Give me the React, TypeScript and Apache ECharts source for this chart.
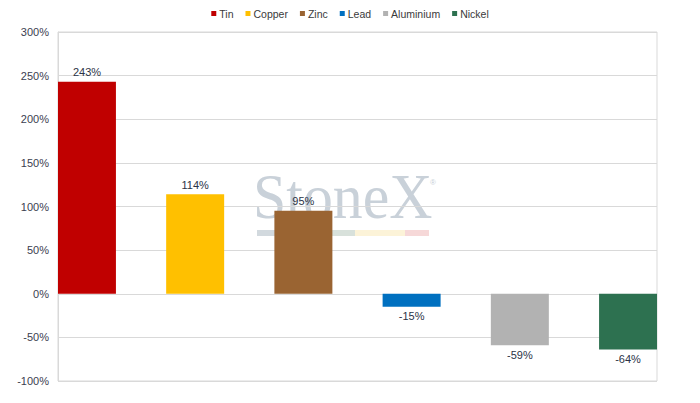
import React, { useEffect, useRef } from "react";
import * as echarts from "echarts";

const metals = ["Tin", "Copper", "Zinc", "Lead", "Aluminium", "Nickel"];
const changes = [243, 114, 95, -15, -59, -64];
const colors = ["#C00000", "#FFC000", "#9A6432", "#0070C0", "#B2B2B2", "#2D7150"];
const yMin = -100;
const yMax = 300;
const yStep = 50;

export default function App() {
  const ref = useRef<HTMLDivElement>(null);
  useEffect(() => {
    if (!ref.current) return;
    const chart = echarts.init(ref.current, null, { renderer: "svg" });
    const series = metals.map((name, i) => ({
      name,
      type: "bar" as const,
      data: [changes[i]],
      barWidth: 58,
      barGap: "86.6%",
      itemStyle: { color: colors[i] },
      z: 3,
      label: {
        show: true,
        position: changes[i] >= 0 ? "top" : "bottom",
        distance: 4,
        formatter: "{c}%",
        fontSize: 11,
        fontFamily: "Liberation Sans, Arial, sans-serif",
        color: "#2b3346",
      },
    }));
    chart.setOption({
      animation: false,
      textStyle: { fontFamily: "Liberation Sans, Arial, sans-serif" },
      legend: {
        data: metals,
        top: 3,
        left: "center",
        icon: "rect",
        itemWidth: 5,
        itemHeight: 5,
        itemGap: 12,
        textStyle: { fontSize: 10.5, color: "#3a3a3a", padding: [0, 0, 0, -2] },
      },
      grid: {
        left: 58,
        right: 43,
        top: 32,
        bottom: 22,
        show: true,
        borderColor: "#d9d9d9",
        borderWidth: 1,
      },
      xAxis: {
        type: "category",
        data: [""],
        axisLine: { show: false },
        axisTick: { show: false },
        axisLabel: { show: false },
      },
      yAxis: {
        type: "value",
        min: yMin,
        max: yMax,
        interval: yStep,
        axisLine: { show: true, lineStyle: { color: "#d9d9d9" } },
        axisTick: { show: false },
        splitLine: { lineStyle: { color: "#d9d9d9" } },
        axisLabel: {
          formatter: "{value}%",
          fontSize: 11,
          color: "#3b4050",
          margin: 9,
        },
      },
      graphic: [
        {
          type: "text",
          z: 0,
          x: 253,
          y: 165,
          scaleX: 0.95,
          style: {
            text: "StoneX",
            x: 0,
            y: 0,
            verticalAlign: "top",
            font: "63px 'Liberation Serif', serif",
            fill: "rgba(165,178,192,0.6)",
          },
        },
        {
          type: "text",
          z: 0,
          x: 430,
          y: 178,
          style: { text: "®", x: 0, y: 0, verticalAlign: "top", font: "8px 'Liberation Sans', sans-serif", fill: "rgba(170,182,196,0.7)" },
        },
        { type: "rect", z: 0, shape: { x: 257, y: 230, width: 48, height: 6 }, style: { fill: "rgba(180,192,200,0.6)" } },
        { type: "rect", z: 0, shape: { x: 305, y: 230, width: 50, height: 6 }, style: { fill: "rgba(190,205,195,0.6)" } },
        { type: "rect", z: 0, shape: { x: 355, y: 230, width: 50, height: 6 }, style: { fill: "rgba(250,235,190,0.6)" } },
        { type: "rect", z: 0, shape: { x: 405, y: 230, width: 24, height: 6 }, style: { fill: "rgba(240,190,190,0.6)" } },
      ],
      series,
    });
    return () => chart.dispose();
  }, []);
  return <div ref={ref} style={{ width: 700, height: 403, position: "absolute", left: 0, top: 0 }} />;
}
